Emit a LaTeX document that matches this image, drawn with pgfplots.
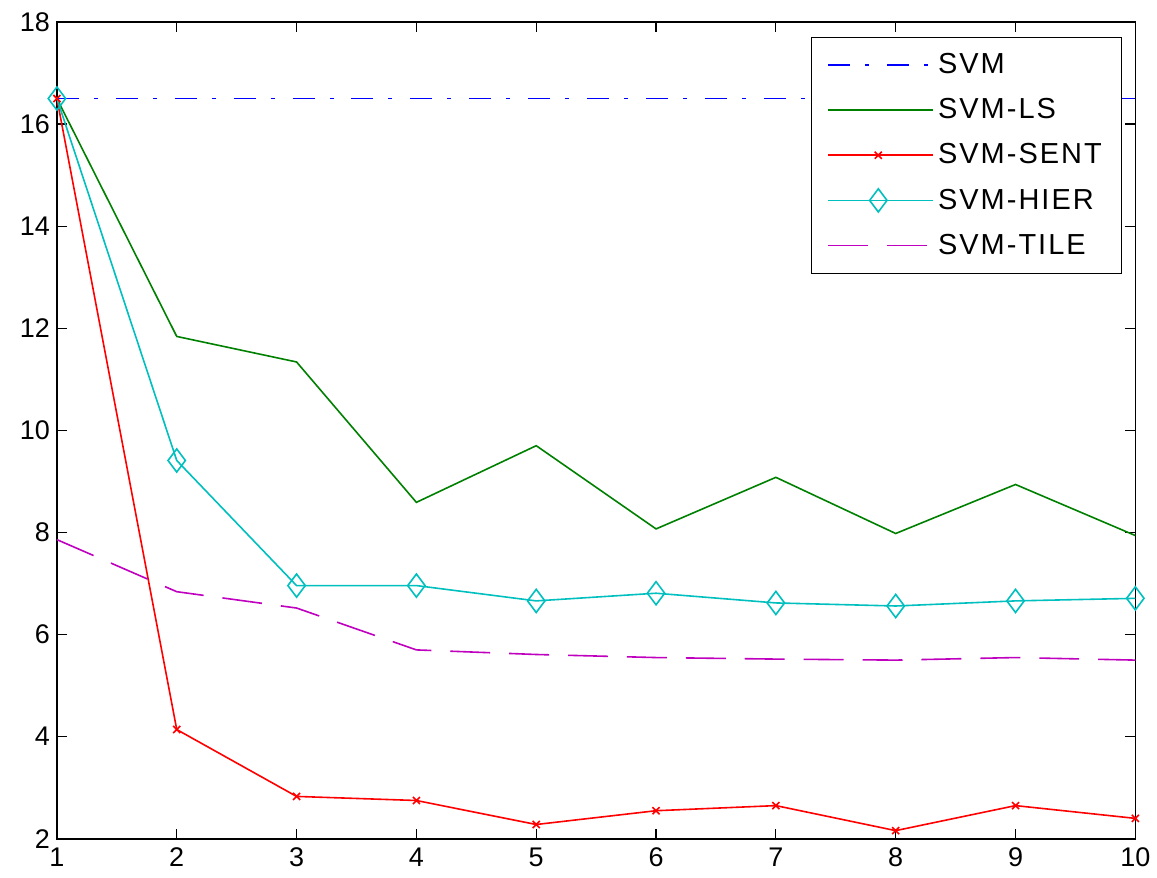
\documentclass[border=0pt]{standalone}
\usepackage{fontspec}
\setmainfont{Liberation Sans}
\newfontfamily\legfont[LetterSpace=7]{Liberation Sans}
\usepackage{pgfplots}
\pgfplotsset{compat=1.18}
\definecolor{mblue}{rgb}{0,0,1}
\definecolor{mgreen}{rgb}{0,0.5,0}
\definecolor{mred}{rgb}{1,0,0}
\definecolor{mcyan}{rgb}{0,0.75,0.75}
\definecolor{mmag}{rgb}{0.75,0,0.75}
\begin{document}
\begin{tikzpicture}
\begin{axis}[
  at={(0,0)}, anchor=south west,
  scale only axis, width=540pt, height=409pt,
  xmin=1, xmax=10, ymin=2, ymax=18,
  xtick={1,...,10}, ytick={2,4,...,18},
  tick align=inside, major tick length=5pt,
  tick style={black, line width=0.6pt},
  axis line style={line width=0.8pt},
  /pgf/number format/assume math mode=true,
  tick label style={font=\fontsize{13.5}{15}\selectfont},
  xticklabel style={yshift=-1pt},
  legend style={at={(0.988,0.982)}, anchor=north east, draw=black, line width=0.6pt,
    font=\legfont\fontsize{14.5}{16}\selectfont, row sep=7pt, inner xsep=8pt, inner ysep=6pt,
    cells={anchor=west}},
  legend cell align=left,
  legend image code/.code={
    \path (0pt,0pt) -- (52.5pt,0pt);
    \draw[line width=0.8pt, #1, mark repeat=2, mark phase=2] plot coordinates {(0pt,0pt) (25pt,0pt) (50pt,0pt)};
  },
  every axis plot/.append style={line width=0.8pt},
]
\addplot[mblue, dash pattern=on 11pt off 7.5pt on 2pt off 9pt] coordinates {
(1,16.5) (2,16.5) (3,16.5) (4,16.5) (5,16.5) (6,16.5) (7,16.5) (8,16.5) (9,16.5) (10,16.5)};
\addlegendentry{SVM}
\addplot[mgreen, solid] coordinates {
(1,16.5) (2,11.84) (3,11.34) (4,8.59) (5,9.70) (6,8.07) (7,9.08) (8,7.98) (9,8.94) (10,7.94)};
\addlegendentry{SVM-LS}
\addplot[mred, solid, mark=x, mark size=2.5pt, mark options={solid, line width=0.8pt}] coordinates {
(1,16.5) (2,4.14) (3,2.83) (4,2.75) (5,2.28) (6,2.55) (7,2.65) (8,2.16) (9,2.65) (10,2.40)};
\addlegendentry{SVM-SENT}
\addplot[mcyan, solid, mark=diamond, mark size=5.8pt, mark options={solid, line width=0.8pt}] coordinates {
(1,16.5) (2,9.41) (3,6.96) (4,6.96) (5,6.66) (6,6.81) (7,6.62) (8,6.56) (9,6.66) (10,6.71)};
\addlegendentry{SVM-HIER}
\addplot[mmag, dash pattern=on 20pt off 9.5pt] coordinates {
(1,7.86) (2,6.84) (3,6.52) (4,5.70) (5,5.61) (6,5.55) (7,5.52) (8,5.50) (9,5.55) (10,5.50)};
\addlegendentry{SVM-TILE}
\end{axis}
\path (-28.5pt,-19.5pt) rectangle (550pt,420pt);
\end{tikzpicture}
\end{document}
